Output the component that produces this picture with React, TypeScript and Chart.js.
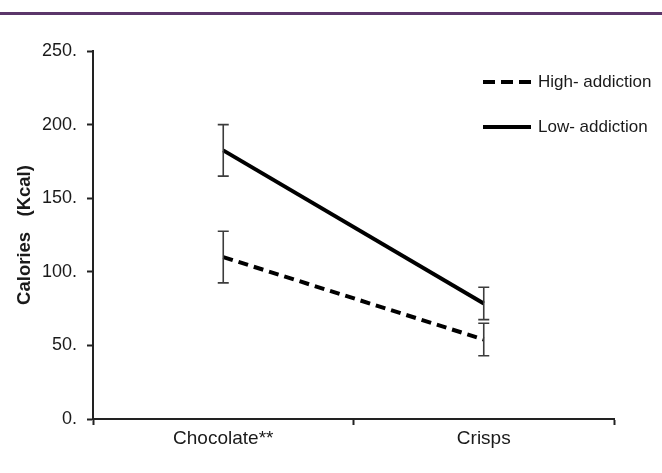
import React, { useEffect, useRef } from "react";
import { Chart, registerables } from "chart.js";

Chart.register(...registerables);

const categories = ["Chocolate**", "Crisps"];
const seriesLabels = ["High- addiction", "Low- addiction"];
const highAddiction = [110, 54];
const highAddictionErr = [17.5, 11];
const lowAddiction = [182.5, 78.5];
const lowAddictionErr = [17.5, 11];
const yTicks = [0, 50, 100, 150, 200, 250];
const yTitle = "Calories   (Kcal)";

const FONT = "'Liberation Sans', Arial, Helvetica, sans-serif";
const INK = "#1a1a1a";

const errorBarPlugin = {
  id: "errorBars",
  afterDatasetsDraw(chart: any) {
    const ctx = chart.ctx;
    const yScale = chart.scales.y;
    chart.data.datasets.forEach((ds: any, i: number) => {
      const meta = chart.getDatasetMeta(i);
      const errs: number[] = ds.errors || [];
      meta.data.forEach((pt: any, j: number) => {
        const v = ds.data[j];
        const e = errs[j];
        if (e == null) return;
        const x = pt.x;
        const yTop = yScale.getPixelForValue(v + e);
        const yBot = yScale.getPixelForValue(v - e);
        ctx.save();
        ctx.strokeStyle = "#3c3c3c";
        ctx.lineWidth = 1.6;
        ctx.setLineDash([]);
        ctx.beginPath();
        ctx.moveTo(x, yTop);
        ctx.lineTo(x, yBot);
        ctx.moveTo(x - 5.5, yTop);
        ctx.lineTo(x + 5.5, yTop);
        ctx.moveTo(x - 5.5, yBot);
        ctx.lineTo(x + 5.5, yBot);
        ctx.stroke();
        ctx.restore();
      });
    });
  },
};

const legendPlugin = {
  id: "customLegend",
  afterDraw(chart: any) {
    const ctx = chart.ctx;
    const x0 = 483;
    const x1 = 531;
    const rows = [82, 127];
    chart.data.datasets.forEach((ds: any, i: number) => {
      const y = rows[i];
      ctx.save();
      ctx.strokeStyle = ds.borderColor;
      ctx.lineWidth = 4;
      ctx.setLineDash(ds.borderDash && ds.borderDash.length ? [12, 6] : []);
      ctx.beginPath();
      ctx.moveTo(x0, y);
      ctx.lineTo(x1, y);
      ctx.stroke();
      ctx.setLineDash([]);
      ctx.fillStyle = INK;
      ctx.font = `17px ${FONT}`;
      ctx.textBaseline = "middle";
      ctx.textAlign = "left";
      ctx.fillText(ds.label, 538, y);
      ctx.restore();
    });
  },
};

export default function App() {
  const canvasRef = useRef<HTMLCanvasElement | null>(null);

  useEffect(() => {
    if (!canvasRef.current) return;
    const chart = new Chart(canvasRef.current, {
      type: "line",
      data: {
        labels: categories,
        datasets: [
          {
            label: seriesLabels[0],
            data: highAddiction,
            errors: highAddictionErr,
            borderColor: "#000000",
            borderWidth: 4,
            borderDash: [10, 6],
            pointRadius: 0,
            fill: false,
            tension: 0,
          } as any,
          {
            label: seriesLabels[1],
            data: lowAddiction,
            errors: lowAddictionErr,
            borderColor: "#000000",
            borderWidth: 4,
            borderDash: [],
            pointRadius: 0,
            fill: false,
            tension: 0,
          } as any,
        ],
      },
      options: {
        animation: false,
        responsive: false,
        devicePixelRatio: 1,
        layout: { padding: { left: 0, right: 48, top: 51, bottom: 0 } },
        plugins: {
          legend: { display: false },
          tooltip: { enabled: false },
        },
        scales: {
          x: {
            type: "category",
            offset: true,
            grid: {
              offset: true,
              drawOnChartArea: false,
              drawTicks: true,
              tickLength: 6,
              tickColor: "#222",
              tickWidth: 2,
            },
            border: { display: true, color: "#222", width: 2 },
            ticks: {
              color: INK,
              font: { family: FONT, size: 19 },
              padding: 2,
              maxRotation: 0,
            },
            afterFit(scale: any) {
              scale.height = 54;
            },
          },
          y: {
            min: 0,
            max: 250,
            grid: {
              drawOnChartArea: false,
              drawTicks: true,
              tickLength: 6,
              tickColor: "#222",
              tickWidth: 2,
            },
            border: { display: true, color: "#222", width: 2 },
            afterBuildTicks(scale: any) {
              scale.ticks = yTicks.map((v) => ({ value: v }));
            },
            ticks: {
              color: INK,
              font: { family: FONT, size: 18 },
              padding: 10,
              callback: (v: any) => `${v}.`,
            },
            title: {
              display: true,
              text: yTitle,
              color: INK,
              font: { family: FONT, size: 18.5, weight: "bold" },
              padding: { top: 14, bottom: 0 },
            },
            afterFit(scale: any) {
              scale.width = 93;
            },
          },
        },
      } as any,
      plugins: [errorBarPlugin, legendPlugin],
    });
    return () => chart.destroy();
  }, []);

  return (
    <div
      style={{
        position: "absolute",
        left: 0,
        top: 0,
        width: 662,
        height: 473,
        background: "#ffffff",
        overflow: "hidden",
      }}
    >
      <div
        style={{
          position: "absolute",
          left: 0,
          top: 12,
          width: 662,
          height: 3,
          background: "#5b366a",
        }}
      />
      <canvas
        ref={canvasRef}
        width={662}
        height={473}
        style={{ position: "absolute", left: 0, top: 0, width: 662, height: 473 }}
      />
    </div>
  );
}
